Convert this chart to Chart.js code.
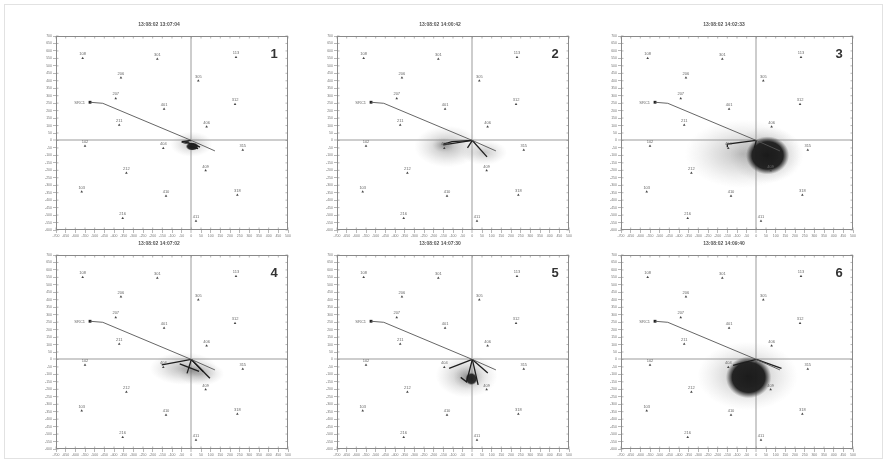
<!DOCTYPE html>
<html><head><meta charset="utf-8">
<script src="https://cdn.jsdelivr.net/npm/chart.js@4"></script>
<style>
html,body{margin:0;padding:0;background:#fff;width:887px;height:463px;overflow:hidden;font-family:'Liberation Sans',Arial,sans-serif}
#frame{position:absolute;left:4px;top:4px;width:879px;height:455px;border:1px solid #e2e2e2;box-sizing:border-box}
canvas{position:absolute}
</style></head>
<body><div id="frame"></div>
<canvas id="c0"></canvas><canvas id="c1"></canvas><canvas id="c2"></canvas>
<canvas id="c3"></canvas><canvas id="c4"></canvas><canvas id="c5"></canvas>
<script>
// ---- axis ranges (data units) ----
const xMin = -700, xMax = 500, xStep = 50;
const yMin = -600, yMax = 700, yStep = 50;

// ---- panels ----
const panelTitles = ['13:08:02 13:07:04','13:08:02 14:00:42','13:08:02 14:02:33','13:08:02 14:07:02','13:08:02 14:07:30','13:08:02 14:09:40'];
const panelNumbers = ['1','2','3','4','5','6'];

// ---- stations (same in all panels) ----
const stationLabels = ['108','301','113','206','305','207','401','312','211','406','102','404','315','212','409','103','410','318','216','411'];
const stationX = [-562,-176,231,-364,36,-391,-141,226,-373,79,-550,-145,266,-336,74,-567,-131,238,-355,24];
const stationY = [551,546,557,421,400,282,211,242,104,92,-37,-52,-64,-218,-202,-343,-372,-365,-521,-540];

// ---- source ----
const sourceLabel = 'SRC1';
const sourceX = [-524];
const sourceY = [256];

// ---- main track ----
const trackX = [-524,-458,0,122];
const trackY = [256,249,0,-70];

// ---- dark plume traces per panel: polylines of [x,y] ----
const plumeLines = [
  [ [[0,0],[-50,-8]], [[-30,-12],[20,-30],[45,-45]], [[-10,-40],[35,-55]] ],
  [ [[0,0],[-150,-30]], [[0,0],[-105,-8],[-150,-25]], [[0,0],[76,-110]], [[0,0],[-25,-50]] ],
  [ [[0,0],[-150,-24],[-150,-45]], [[0,0],[-10,-50]] ],
  [ [[0,0],[-153,-37]], [[0,0],[-22,-93]], [[0,0],[96,-126]], [[0,0],[62,-82]], [[-60,-30],[40,-80]] ],
  [ [[0,0],[-120,-60]], [[0,0],[30,-170]], [[0,0],[-30,-150],[-60,-120]], [[0,0],[80,-90]] ],
  [ [[0,0],[-120,-40]], [[0,0],[130,-60]] ]
];

// ---- clouds per panel: [x, y, rx, ry, darkness(0..1), solid(0/1)] ----
const cloudSets = [
  [ [0,-25,110,85,0.38,0], [5,-40,34,28,0.95,1], [-30,-12,24,11,0.8,1] ],
  [ [-130,-40,170,140,0.45,0], [60,-80,120,85,0.35,0], [-150,-30,60,50,0.45,0] ],
  [ [-70,-90,300,230,0.40,0], [55,-97,190,190,0.45,0], [58,-100,112,128,0.97,1] ],
  [ [-40,-60,175,110,0.45,0], [50,-95,120,80,0.4,0], [10,-75,70,45,0.45,0] ],
  [ [-30,-110,160,145,0.45,0], [-20,-120,80,80,0.45,0], [-5,-130,32,42,0.9,1] ],
  [ [-45,-110,260,230,0.45,0], [-40,-120,118,140,0.97,1] ]
];

// ---- layout of plot areas (pixels) ----
const panelLeft = [56,337,621,56,337,621];
const panelTop = [36,36,36,255,255,255];
const plotW = 232, plotH = 194;
const L = 26, T = 22, R = 6, B = 12;

const cloudPlugin = {
  id:'clouds',
  beforeDatasetsDraw(chart){
    const ctx = chart.ctx, xs = chart.scales.x, ys = chart.scales.y, a = chart.chartArea;
    const clouds = chart.options.plugins.clouds.items;
    ctx.save();
    ctx.beginPath(); ctx.rect(a.left,a.top,a.right-a.left,a.bottom-a.top); ctx.clip();
    clouds.forEach(c=>{
      const cx = xs.getPixelForValue(c[0]), cy = ys.getPixelForValue(c[1]);
      const rx = Math.abs(xs.getPixelForValue(c[0]+c[2])-cx);
      const ry = Math.abs(ys.getPixelForValue(c[1]+c[3])-cy);
      ctx.save();
      ctx.translate(cx,cy); ctx.scale(1, ry/rx);
      const g = ctx.createRadialGradient(0,0,0,0,0,rx);
      if(c[5]){
        g.addColorStop(0,'rgba(22,22,22,'+c[4]+')');
        g.addColorStop(0.72,'rgba(30,30,30,'+c[4]+')');
        g.addColorStop(0.85,'rgba(60,60,60,'+(c[4]*0.6)+')');
        g.addColorStop(1,'rgba(90,90,90,0)');
      } else {
        g.addColorStop(0,'rgba(90,90,90,'+c[4]+')');
        g.addColorStop(0.5,'rgba(130,130,130,'+(c[4]*0.55)+')');
        g.addColorStop(1,'rgba(170,170,170,0)');
      }
      ctx.fillStyle = g;
      ctx.beginPath(); ctx.arc(0,0,rx,0,Math.PI*2); ctx.fill();
      ctx.restore();
    });
    ctx.restore();
  }
};

const framePlugin = {
  id:'frameTicks',
  afterDatasetsDraw(chart){
    const ctx = chart.ctx, a = chart.chartArea, xs = chart.scales.x, ys = chart.scales.y;
    ctx.save();
    const meta = chart.getDatasetMeta(chart.data.datasets.length-2);
    ctx.fillStyle = '#666'; ctx.font = '4px "Liberation Sans", Arial'; ctx.textAlign='center'; ctx.textBaseline='bottom';
    meta.data.forEach((p,i)=>{ ctx.fillText(stationLabels[i], p.x, p.y-2); });
    const sm = chart.getDatasetMeta(chart.data.datasets.length-1);
    ctx.textAlign='right'; ctx.textBaseline='middle';
    sm.data.forEach(p=>{ ctx.fillText(sourceLabel, p.x-5, p.y+1); });
    ctx.strokeStyle = '#8a8a8a'; ctx.lineWidth = 1;
    ctx.strokeRect(a.left+0.5,a.top+0.5,a.right-a.left-1,a.bottom-a.top-1);
    ctx.lineWidth = 0.6; ctx.strokeStyle='#888';
    ctx.beginPath();
    xs.ticks.forEach(t=>{ const px = xs.getPixelForValue(t.value); ctx.moveTo(px,a.top); ctx.lineTo(px,a.top+2.5); ctx.moveTo(px,a.bottom); ctx.lineTo(px,a.bottom-2.5); });
    ys.ticks.forEach(t=>{ const py = ys.getPixelForValue(t.value); ctx.moveTo(a.right,py); ctx.lineTo(a.right-2.5,py); ctx.moveTo(a.left,py); ctx.lineTo(a.left+2.5,py); });
    ctx.stroke();
    ctx.fillStyle = '#333'; ctx.font = 'bold 13px "Liberation Sans", Arial'; ctx.textAlign='center'; ctx.textBaseline='middle';
    ctx.fillText(chart.options.plugins.frameTicks.num, a.right-14, a.top+18);
    ctx.restore();
  }
};

function makeChart(i){
  const cv = document.getElementById('c'+i);
  cv.width = plotW+L+R; cv.height = plotH+T+B;
  cv.style.left = (panelLeft[i]-L)+'px'; cv.style.top = (panelTop[i]-T)+'px';
  cv.style.width = cv.width+'px'; cv.style.height = cv.height+'px';
  const datasets = [];
  datasets.push({data: trackX.map((x,k)=>({x, y:trackY[k]})), showLine:true, borderColor:'#555', borderWidth:0.9, pointRadius:0, fill:false});
  plumeLines[i].forEach(pl=>{
    datasets.push({data: pl.map(p=>({x:p[0], y:p[1]})), showLine:true, borderColor:'#1e1e1e', borderWidth:1.3, pointRadius:0, fill:false});
  });
  datasets.push({data: stationX.map((x,k)=>({x, y:stationY[k]})), pointStyle:'triangle', pointRadius:1.5, backgroundColor:'#444', borderColor:'#444', borderWidth:0});
  datasets.push({data: sourceX.map((x,k)=>({x, y:sourceY[k]})), pointStyle:'rect', pointRadius:2, backgroundColor:'#222', borderColor:'#222', borderWidth:0});
  const gridCfg = {
    drawOnChartArea:true,
    color: c => (c.tick && c.tick.value===0) ? '#cdcdcd' : 'rgba(0,0,0,0)',
    lineWidth: c => (c.tick && c.tick.value===0) ? 2 : 1,
    tickColor:'#888', tickLength:3, tickWidth:0.6
  };
  new Chart(cv, {
    type:'scatter',
    data:{datasets},
    plugins:[cloudPlugin, framePlugin],
    options:{
      responsive:false, animation:false, devicePixelRatio:1,
      layout:{padding:{left:0,right:R,top:0,bottom:0}},
      plugins:{
        legend:{display:false}, tooltip:{enabled:false},
        title:{display:true, text:panelTitles[i], font:{size:5, family:'Liberation Sans'}, color:'#555', padding:{top:8,bottom:8}},
        clouds:{items:cloudSets[i]},
        frameTicks:{num:panelNumbers[i]}
      },
      scales:{
        x:{type:'linear', min:xMin, max:xMax, ticks:{stepSize:xStep, autoSkip:false, maxRotation:0, minRotation:0, font:{size:3.5, family:'Liberation Sans'}, color:'#777', padding:1}, grid:gridCfg, border:{display:false}, afterFit:s=>{s.height=B;}},
        y:{type:'linear', min:yMin, max:yMax, ticks:{stepSize:yStep, autoSkip:false, font:{size:3.5, family:'Liberation Sans'}, color:'#777', padding:1}, grid:gridCfg, border:{display:false}, afterFit:s=>{s.width=L;}}
      }
    }
  });
}
for(let i=0;i<6;i++) makeChart(i);
</script>
</body></html>
